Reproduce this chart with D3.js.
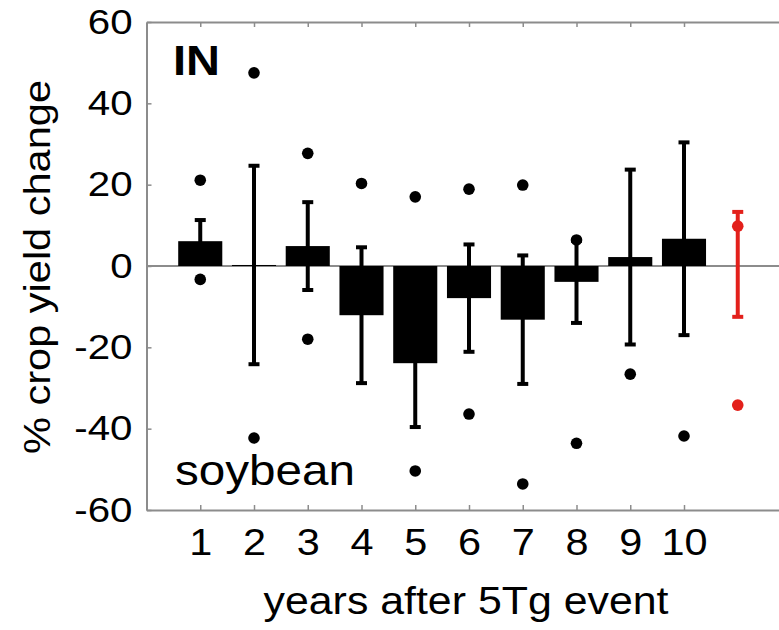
<!DOCTYPE html>
<html>
<head>
<meta charset="utf-8">
<script src="https://cdn.jsdelivr.net/npm/d3@7.9.0/dist/d3.min.js"></script>
<style>
  html, body { margin: 0; padding: 0; background: #fff; }
  svg { display: block; font-family: "Liberation Sans", Arial, Helvetica, sans-serif; }
</style>
</head>
<body>
<svg id="chart" width="779" height="630"></svg>
<script>
// years after the event, bar values (mean) and whisker half-length (sd)
const years   = [1, 2, 3, 4, 5, 6, 7, 8, 9, 10];
const means   = [6.1, 0.25, 4.9, -12.1, -23.9, -7.9, -13.2, -3.9, 2.2, 6.7];
const sds     = [5.2, 24.4, 10.8, 16.7, 15.7, 13.2, 15.8, 10.1, 21.5, 23.7];
// extreme values shown as dots (null = not drawn)
const maxVals = [21.1, 47.5, 27.7, 20.3, 17.0, 18.9, 19.9, 6.4, null, null];
const minVals = [-3.3, -42.3, -18.0, null, -50.4, -36.4, -53.6, -43.6, -26.6, -41.8];

// red reference entry drawn at position 11
const refPos  = 11;
const refMean = 0.4;
const refSd   = 12.9;
const refMax  = 9.8;
const refMin  = -34.2;

const yTicks = [-60, -40, -20, 0, 20, 40, 60];

const svg = d3.select("#chart");
const W = +svg.attr("width");

const x = d3.scaleLinear().domain([0, 12]).range([146.5, 791.5]);
const y = d3.scaleLinear().domain([-60, 60]).range([510, 22]);

const frameColor = "#8c8c8c";
const barW = x(0.82) - x(0);
const capW = 11;

// stretch text horizontally about its own x anchor
function stretch(sel, k) {
  sel.each(function() {
    const t = d3.select(this);
    const tx = +t.attr("x") || 0;
    t.attr("transform", `translate(${tx},0) scale(${k},1) translate(${-tx},0)`);
  });
}

// ----- frame + axes -----
const gy = svg.append("g")
  .attr("transform", `translate(${x(0)},0)`)
  .call(d3.axisLeft(y).tickValues(yTicks).tickSizeInner(-5).tickSizeOuter(0)
    .tickPadding(14).tickFormat(d => String(d)));
gy.select(".domain").attr("stroke", frameColor).attr("stroke-width", 2);
gy.selectAll(".tick line").attr("stroke", frameColor).attr("stroke-width", 1.5);
gy.selectAll(".tick text").attr("font-size", 35).attr("fill", "#000")
  .attr("font-family", "Liberation Sans, Arial, sans-serif").call(stretch, 1.15);

const gx = svg.append("g")
  .attr("transform", `translate(0,${y(-60)})`)
  .call(d3.axisBottom(x).tickValues(years).tickSizeInner(-5).tickSizeOuter(0)
    .tickPadding(19).tickFormat(d => String(d)));
gx.select(".domain").attr("stroke", frameColor).attr("stroke-width", 2);
gx.selectAll(".tick line").attr("stroke", frameColor).attr("stroke-width", 1.5);
gx.selectAll(".tick text").attr("font-size", 37).attr("fill", "#000")
  .attr("font-family", "Liberation Sans, Arial, sans-serif").call(stretch, 1.12);

const gxTop = svg.append("g")
  .attr("transform", `translate(0,${y(60)})`)
  .call(d3.axisTop(x).tickValues(years).tickSizeInner(-5).tickSizeOuter(0).tickFormat(""));
gxTop.select(".domain").attr("stroke", frameColor).attr("stroke-width", 2);
gxTop.selectAll(".tick line").attr("stroke", frameColor).attr("stroke-width", 1.5);

// zero line
svg.append("line")
  .attr("x1", x(0)).attr("x2", W)
  .attr("y1", y(0)).attr("y2", y(0))
  .attr("stroke", frameColor).attr("stroke-width", 2);

// ----- bars -----
const rows = years.map((yr, i) => ({
  yr, mean: means[i], sd: sds[i], max: maxVals[i], min: minVals[i]
}));

svg.append("g").selectAll("rect")
  .data(rows)
  .join("rect")
  .attr("x", d => x(d.yr) - barW / 2)
  .attr("width", barW)
  .attr("y", d => y(Math.max(0, d.mean)))
  .attr("height", d => Math.abs(y(d.mean) - y(0)))
  .attr("fill", "#000");

// ----- error bars -----
function errorBar(g, pos, mean, sd, color) {
  g.append("line")
    .attr("x1", x(pos)).attr("x2", x(pos))
    .attr("y1", y(mean + sd)).attr("y2", y(mean - sd))
    .attr("stroke", color).attr("stroke-width", 4);
  [mean + sd, mean - sd].forEach(v => {
    g.append("line")
      .attr("x1", x(pos) - capW / 2).attr("x2", x(pos) + capW / 2)
      .attr("y1", y(v)).attr("y2", y(v))
      .attr("stroke", color).attr("stroke-width", 4);
  });
}

const gErr = svg.append("g");
rows.forEach(d => errorBar(gErr, d.yr, d.mean, d.sd, "#000"));
errorBar(gErr, refPos, refMean, refSd, "#e3201b");

// ----- extreme dots -----
const dots = [];
rows.forEach(d => {
  if (d.max !== null) dots.push({ pos: d.yr, v: d.max, c: "#000" });
  if (d.min !== null) dots.push({ pos: d.yr, v: d.min, c: "#000" });
});
dots.push({ pos: refPos, v: refMax, c: "#e3201b" });
dots.push({ pos: refPos, v: refMin, c: "#e3201b" });

svg.append("g").selectAll("circle")
  .data(dots)
  .join("circle")
  .attr("cx", d => x(d.pos))
  .attr("cy", d => y(d.v))
  .attr("r", 5.8)
  .attr("fill", d => d.c);

// ----- labels -----
svg.append("text")
  .attr("x", 173).attr("y", 75)
  .attr("font-size", 42).attr("font-weight", "bold")
  .attr("textLength", 47).attr("lengthAdjust", "spacingAndGlyphs")
  .attr("fill", "#000")
  .text("IN");

svg.append("text")
  .attr("x", 175).attr("y", 485)
  .attr("font-size", 42)
  .attr("textLength", 180).attr("lengthAdjust", "spacingAndGlyphs")
  .attr("fill", "#000")
  .text("soybean");

svg.append("text")
  .attr("x", 466).attr("y", 614)
  .attr("text-anchor", "middle")
  .attr("font-size", 38)
  .attr("textLength", 405).attr("lengthAdjust", "spacingAndGlyphs")
  .attr("fill", "#000")
  .text("years after 5Tg event");

svg.append("text")
  .attr("transform", "translate(50,267) rotate(-90)")
  .attr("text-anchor", "middle")
  .attr("font-size", 37)
  .attr("textLength", 374).attr("lengthAdjust", "spacingAndGlyphs")
  .attr("fill", "#000")
  .text("% crop yield change");
</script>
</body>
</html>
